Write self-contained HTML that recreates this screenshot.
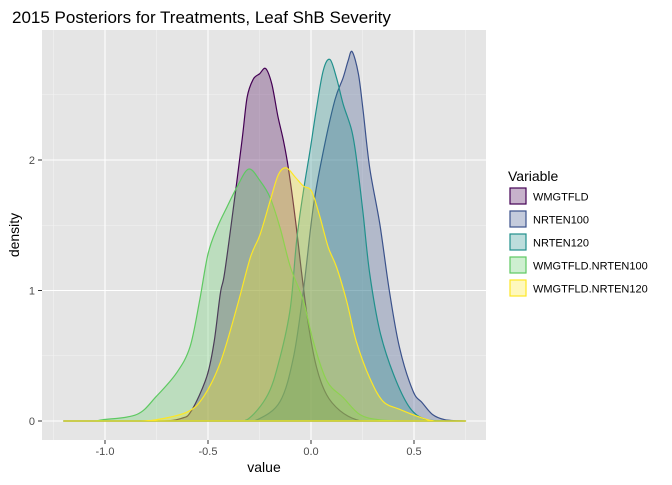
<!DOCTYPE html>
<html><head><meta charset="utf-8"><style>
body{margin:0;background:#fff;font-family:"Liberation Sans",Arial,sans-serif}
svg text{font-family:"Liberation Sans",Arial,sans-serif}
</style></head><body>
<svg id="c" width="672" height="480" xmlns="http://www.w3.org/2000/svg">
<text x="12" y="23" font-size="17" fill="#000">2015 Posteriors for Treatments, Leaf ShB Severity</text>
<rect x="42" y="30" width="444" height="410" fill="#e5e5e5"/>
<g id="grid"></g><g id="series"></g><g id="axes"></g><g id="legend"></g>
</svg>
<script>
const seriesNames=["WMGTFLD","NRTEN100","NRTEN120","WMGTFLD.NRTEN100","WMGTFLD.NRTEN120"];
const seriesColors=["#440154","#3b528b","#21908c","#5ec962","#fde725"];
const xTicks=[-1.0,-0.5,0.0,0.5];
const xTickLabels=["-1.0","-0.5","0.0","0.5"];
const yTicks=[0,1,2];
const s1=[[-1.2,0],[-0.75,0],[-0.63,0.02],[-0.58,0.08],[-0.506,0.34],[-0.47,0.61],[-0.44,0.98],[-0.42,1.13],[-0.376,1.64],[-0.335,2.15],[-0.31,2.48],[-0.28,2.62],[-0.25,2.66],[-0.22,2.7],[-0.19,2.58],[-0.16,2.33],[-0.134,2.15],[-0.11,1.94],[-0.077,1.56],[-0.045,1.13],[-0.013,0.74],[0.027,0.41],[0.076,0.2],[0.14,0.08],[0.22,0.01],[0.3,0],[0.75,0]];
const s2=[[-1.2,0],[-0.35,0],[-0.26,0.01],[-0.15,0.15],[-0.085,0.49],[-0.037,1.0],[0.011,1.64],[0.06,2.07],[0.116,2.46],[0.156,2.63],[0.18,2.76],[0.2,2.83],[0.23,2.66],[0.253,2.38],[0.285,1.94],[0.334,1.51],[0.38,1.0],[0.43,0.56],[0.495,0.23],[0.54,0.14],[0.59,0.05],[0.65,0.01],[0.75,0]];
const s3=[[-1.2,0],[-0.4,0],[-0.31,0.01],[-0.21,0.2],[-0.15,0.49],[-0.1,0.87],[-0.07,1.38],[-0.037,1.76],[-0.005,2.07],[0.027,2.4],[0.06,2.69],[0.092,2.77],[0.124,2.63],[0.156,2.43],[0.197,2.23],[0.22,2.02],[0.253,1.59],[0.285,1.13],[0.334,0.69],[0.4,0.36],[0.48,0.1],[0.56,0.01],[0.65,0],[0.75,0]];
const s4=[[-1.2,0],[-1.06,0],[-1.01,0.01],[-0.846,0.05],[-0.75,0.19],[-0.652,0.37],[-0.587,0.57],[-0.54,0.93],[-0.5,1.28],[-0.456,1.48],[-0.408,1.64],[-0.36,1.79],[-0.303,1.93],[-0.247,1.84],[-0.198,1.71],[-0.15,1.48],[-0.1,1.18],[-0.037,0.92],[0.011,0.61],[0.076,0.31],[0.156,0.18],[0.237,0.05],[0.33,0.01],[0.45,0],[0.75,0]];
const s5=[[-1.2,0],[-0.85,0],[-0.75,0.01],[-0.6,0.07],[-0.52,0.19],[-0.44,0.45],[-0.36,0.87],[-0.295,1.25],[-0.247,1.43],[-0.198,1.69],[-0.158,1.89],[-0.12,1.94],[-0.077,1.87],[-0.037,1.8],[0.003,1.76],[0.044,1.56],[0.084,1.33],[0.124,1.18],[0.173,0.92],[0.22,0.61],[0.285,0.33],[0.35,0.15],[0.43,0.09],[0.527,0.03],[0.6,0],[0.75,0]];
const seriesData=[s1,s2,s3,s4,s5];
const NS="http://www.w3.org/2000/svg";
const X=v=>311+v*206, Y=v=>421-v*130.5;
function mk(t,a,p){const e=document.createElementNS(NS,t);for(const k in a)e.setAttribute(k,a[k]);p.appendChild(e);return e;}
function smooth(P){let d='M'+P[0][0].toFixed(1)+','+P[0][1].toFixed(1);
 for(let i=0;i<P.length-1;i++){const p0=P[Math.max(0,i-1)],p1=P[i],p2=P[i+1],p3=P[Math.min(P.length-1,i+2)];
  const c1x=p1[0]+(p2[0]-p0[0])/6,c1y=Math.min(421,p1[1]+(p2[1]-p0[1])/6),c2x=p2[0]-(p3[0]-p1[0])/6,c2y=Math.min(421,p2[1]-(p3[1]-p1[1])/6);
  d+=` C${c1x.toFixed(1)},${c1y.toFixed(1)} ${c2x.toFixed(1)},${c2y.toFixed(1)} ${p2[0].toFixed(1)},${p2[1].toFixed(1)}`;}
 return d;}
const grid=document.getElementById('grid'),axes=document.getElementById('axes'),ser=document.getElementById('series'),leg=document.getElementById('legend');
[-1.25,-0.75,-0.25,0.25,0.75].forEach(v=>{const l=mk('line',{x1:X(v),x2:X(v),y1:30,y2:440,stroke:'#f2f2f2','stroke-width':0.6},grid);});
[0.5,1.5,2.5].forEach(v=>{const l=mk('line',{x1:42,x2:486,y1:Y(v),y2:Y(v),stroke:'#f2f2f2','stroke-width':0.6},grid);});
xTicks.forEach((v,i)=>{const l=mk('line',{x1:X(v),x2:X(v),y1:30,y2:440,stroke:'#fff','stroke-width':1.1},grid);
 const t=mk('line',{x1:X(v),x2:X(v),y1:440,y2:444,stroke:'#333'},axes);
 const tx=mk('text',{x:X(v),y:455,'font-size':11,fill:'#4d4d4d','text-anchor':'middle'},axes);tx.textContent=xTickLabels[i];});
yTicks.forEach(v=>{const l=mk('line',{x1:42,x2:486,y1:Y(v),y2:Y(v),stroke:'#fff','stroke-width':1.1},grid);
 const t=mk('line',{x1:38,x2:42,y1:Y(v),y2:Y(v),stroke:'#333'},axes);
 const tx=mk('text',{x:35,y:Y(v)+4,'font-size':11,fill:'#4d4d4d','text-anchor':'end'},axes);tx.textContent=String(v);});
const xt=mk('text',{x:264,y:472,'font-size':14,'text-anchor':'middle'},axes);xt.textContent='value';


const yt=mk('text',{x:19,y:235,'font-size':14,'text-anchor':'middle',transform:'rotate(-90 19 235)'},axes);yt.textContent='density';


seriesData.forEach((d,i)=>{
 const pts=d.map(p=>[X(p[0]),Y(p[1])]);
 const pa=mk('path',{d:smooth(pts)+' Z',fill:seriesColors[i],'fill-opacity':0.3,stroke:seriesColors[i],'stroke-width':1.2,'stroke-linejoin':'round'},ser);
 
 
});
const lt=mk('text',{x:508,y:181,'font-size':14},leg);lt.textContent='Variable';


seriesNames.forEach((n,i)=>{
 const y=187+i*23;
 const g=mk('g',{},leg);
 
 
 mk('rect',{x:509,y:y,width:18,height:18,fill:'#fff'},g);
 mk('rect',{x:510,y:y+1,width:16,height:16,fill:seriesColors[i],'fill-opacity':0.3,stroke:seriesColors[i],'stroke-width':1.2},g);
 const t=mk('text',{x:533,y:y+13.5,'font-size':11},g);t.textContent=n;
});
</script>
</body></html>
